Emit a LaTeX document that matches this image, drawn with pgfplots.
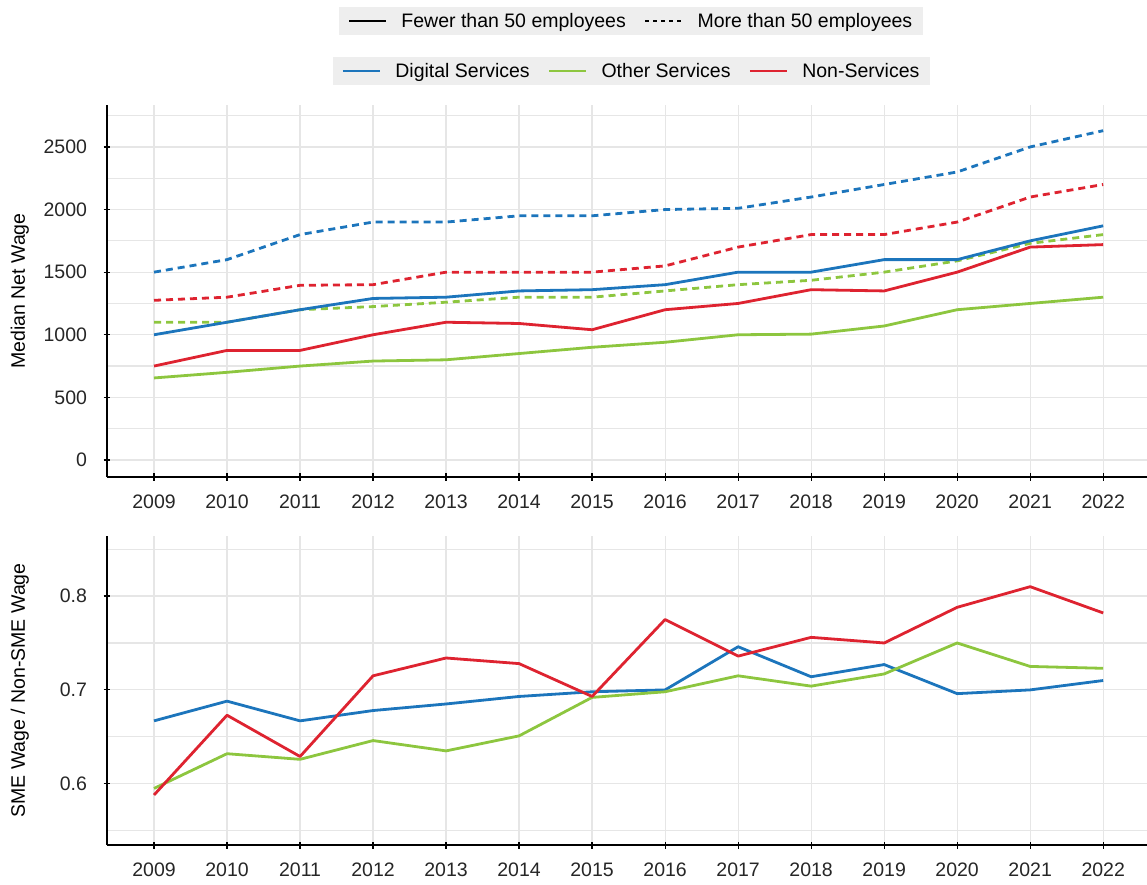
\documentclass[border=0pt]{standalone}
\usepackage{pgfplots}
\pgfplotsset{compat=1.18}
\usepackage{fontspec}
\setmainfont{Liberation Sans}
\definecolor{cblue}{RGB}{28,117,188}
\definecolor{cgreen}{RGB}{141,198,63}
\definecolor{cred}{RGB}{222,35,48}
\definecolor{gridc}{RGB}{230,230,230}
\definecolor{legbg}{RGB}{238,238,238}
\newcommand{\bigfont}{\fontsize{19.5}{23}\selectfont}
\pgfplotsset{
  /pgf/number format/assume math mode=true,
  myaxis/.style={
    scale only axis, width=1040pt,
    axis x line=bottom, axis y line=left,
    axis line style={-, line width=1.8pt, black},
    xmin=2008.356, xmax=2022.6,
    xtick={2009,2010,...,2022},
    xticklabel style={yshift=-11pt, /pgf/number format/1000 sep={}},
    yticklabel style={xshift=-13pt, /pgf/number format/1000 sep={}},
    tick label style={font=\bigfont, text=black!85},
    label style={font=\bigfont},
    major tick style={black, line width=1.2pt},
    major tick length=7pt, minor tick length=0pt,
    grid=both,
    grid style={gridc, line width=1.2pt},
    minor grid style={gridc, line width=1.2pt},
    y label style={at={(axis description cs:-0.0837,0.5)}, anchor=center},
    every axis plot/.append style={line width=2.8pt, line join=round},
    legend image code/.code={\draw[#1] (0pt,0pt) -- (37pt,0pt);},
    mylegend/.style={
      legend columns=-1,
      legend style={fill=legbg, draw=none, font=\bigfont, anchor=center,
        inner xsep=9pt, inner ysep=4.5pt,
        /tikz/every odd column/.append style={column sep=12pt},
        /tikz/every even column/.append style={column sep=16pt}},
    },
  },
  dsh/.style={dash pattern=on 7pt off 5pt},
}
\begin{document}
\begin{tikzpicture}
\useasboundingbox (0,0) rectangle (1147pt,884pt);
% ---------- top panel ----------
\begin{axis}[myaxis, mylegend, at={(107pt,407pt)}, anchor=south west, height=372pt,
  ymin=-136, ymax=2835,
  ytick={0,500,...,2500}, minor ytick={250,750,...,2750},
  ylabel={Median Net Wage},
  legend style={at={(axis description cs:0.5043,1.0914)}},
]
\addlegendimage{cblue, line width=2.8pt}\addlegendentry{Digital Services}
\addlegendimage{cgreen, line width=2.8pt}\addlegendentry{Other Services}
\addlegendimage{cred, line width=2.8pt}\addlegendentry{Non-Services}
% More than 50 employees (dashed)
\addplot[cblue, dsh, forget plot] coordinates {(2009,1500)(2010,1600)(2011,1800)(2012,1900)(2013,1900)(2014,1950)(2015,1950)(2016,2000)(2017,2010)(2018,2100)(2019,2200)(2020,2300)(2021,2500)(2022,2630)};
\addplot[cred, dsh, forget plot] coordinates {(2009,1275)(2010,1300)(2011,1395)(2012,1400)(2013,1500)(2014,1500)(2015,1500)(2016,1550)(2017,1700)(2018,1800)(2019,1800)(2020,1900)(2021,2100)(2022,2200)};
\addplot[cgreen, dsh, forget plot] coordinates {(2009,1100)(2010,1100)(2011,1200)(2012,1225)(2013,1260)(2014,1300)(2015,1300)(2016,1350)(2017,1400)(2018,1435)(2019,1500)(2020,1590)(2021,1730)(2022,1800)};
% Fewer than 50 employees (solid)
\addplot[cblue, forget plot] coordinates {(2009,1000)(2010,1100)(2011,1200)(2012,1290)(2013,1300)(2014,1350)(2015,1360)(2016,1400)(2017,1500)(2018,1500)(2019,1600)(2020,1600)(2021,1750)(2022,1870)};
\addplot[cred, forget plot] coordinates {(2009,750)(2010,875)(2011,875)(2012,1000)(2013,1100)(2014,1090)(2015,1040)(2016,1200)(2017,1250)(2018,1360)(2019,1350)(2020,1500)(2021,1700)(2022,1720)};
\addplot[cgreen, forget plot] coordinates {(2009,655)(2010,700)(2011,750)(2012,790)(2013,800)(2014,850)(2015,900)(2016,940)(2017,1000)(2018,1005)(2019,1070)(2020,1200)(2021,1250)(2022,1300)};
\end{axis}
% ---------- line-style legend (hidden axis) ----------
\begin{axis}[myaxis, mylegend, at={(107pt,407pt)}, anchor=south west, height=372pt,
  hide axis, ymin=0, ymax=1, grid=none,
  legend style={at={(axis description cs:0.5038,1.2258)}},
]
\addlegendimage{black, line width=2.8pt}\addlegendentry{Fewer than 50 employees}
\addlegendimage{black, line width=2.8pt, dash pattern=on 4pt off 4pt}\addlegendentry{More than 50 employees}
\end{axis}
% ---------- bottom panel ----------
\begin{axis}[myaxis, at={(107pt,39pt)}, anchor=south west, height=309pt,
  ymin=0.5347, ymax=0.864,
  ytick={0.6,0.7,0.8}, minor ytick={0.55,0.65,0.75,0.85},
  yticklabel style={/pgf/number format/fixed, /pgf/number format/precision=1},
  ylabel={SME Wage / Non-SME Wage},
]
\addplot[cblue] coordinates {(2009,0.667)(2010,0.688)(2011,0.667)(2012,0.678)(2013,0.685)(2014,0.693)(2015,0.698)(2016,0.700)(2017,0.746)(2018,0.714)(2019,0.727)(2020,0.696)(2021,0.700)(2022,0.710)};
\addplot[cgreen] coordinates {(2009,0.595)(2010,0.632)(2011,0.626)(2012,0.646)(2013,0.635)(2014,0.651)(2015,0.692)(2016,0.698)(2017,0.715)(2018,0.704)(2019,0.717)(2020,0.750)(2021,0.725)(2022,0.723)};
\addplot[cred] coordinates {(2009,0.588)(2010,0.673)(2011,0.629)(2012,0.715)(2013,0.734)(2014,0.728)(2015,0.693)(2016,0.775)(2017,0.736)(2018,0.756)(2019,0.750)(2020,0.788)(2021,0.810)(2022,0.782)};
\end{axis}
\end{tikzpicture}
\end{document}
